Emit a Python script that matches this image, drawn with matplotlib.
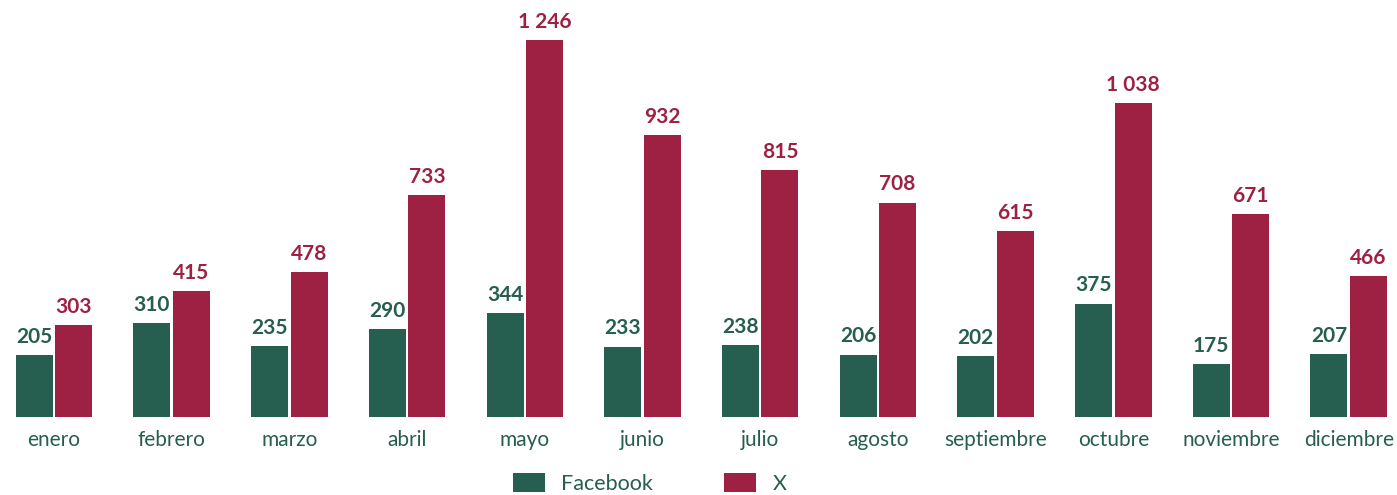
import numpy as np
import matplotlib.pyplot as plt

# datos
meses = ["enero", "febrero", "marzo", "abril", "mayo", "junio", "julio",
         "agosto", "septiembre", "octubre", "noviembre", "diciembre"]
facebook = [205, 310, 235, 290, 344, 233, 238, 206, 202, 375, 175, 207]
x_red = [303, 415, 478, 733, 1246, 932, 815, 708, 615, 1038, 671, 466]

verde = "#265E50"
rojo = "#9E2143"

plt.rcParams["font.family"] = ["Lato", "DejaVu Sans"]

fig = plt.figure(figsize=(13.97, 4.95), dpi=100)
ax = fig.add_axes([0, (495 - 417) / 495, 1, 417 / 495])

pos = np.arange(len(meses))
ancho = 0.314
desp = 0.168

b1 = ax.bar(pos - desp, facebook, ancho, color=verde, label="Facebook")
b2 = ax.bar(pos + desp, x_red, ancho, color=rojo, label="X")


def fmt(v):
    return f"{v:,}".replace(",", " ")


for p, v in zip(pos, facebook):
    ax.annotate(fmt(v), (p - desp, v), xytext=(0, 6), textcoords="offset points",
                ha="center", va="bottom", fontsize=15, fontweight="bold", color=verde)
for p, v in zip(pos, x_red):
    ax.annotate(fmt(v), (p + desp, v), xytext=(0, 6), textcoords="offset points",
                ha="center", va="bottom", fontsize=15, fontweight="bold", color=rojo)

ax.set_xlim(-54 / 117.7, (1397 - 54) / 117.7)
ax.set_ylim(0, 1246 * 417 / 377)
ax.set_xticks(pos)
ax.set_xticklabels(meses, fontsize=15, color=verde)
ax.tick_params(axis="x", length=0, pad=9)
ax.set_yticks([])
for s in ax.spines.values():
    s.set_visible(False)

fig.legend(handles=[b1, b2], loc="upper center", bbox_to_anchor=(0.465, 0.066),
           ncol=2, frameon=False, fontsize=15.5, handlelength=1.5, handleheight=1.0,
           handletextpad=0.75, columnspacing=3.3, borderpad=0,
           labelcolor=verde)

fig.savefig("out.png", dpi=100)
